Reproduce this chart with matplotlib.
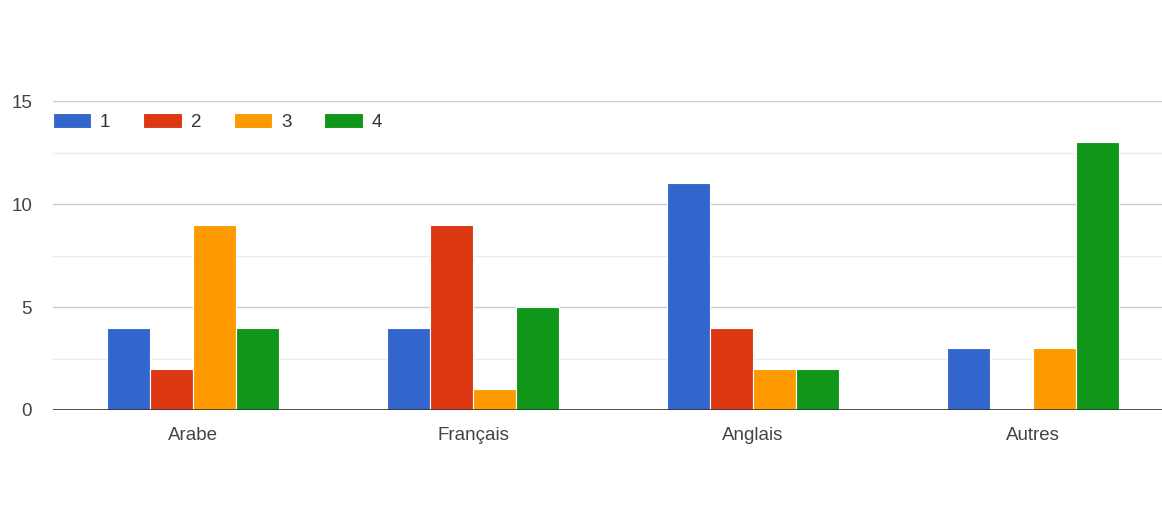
import matplotlib.pyplot as plt
import numpy as np
from matplotlib.ticker import MultipleLocator

plt.rcParams['font.family'] = ['Liberation Sans', 'DejaVu Sans']

categories = ["Arabe", "Français", "Anglais", "Autres"]
series_names = ["1", "2", "3", "4"]
values_1 = [4, 4, 11, 3]
values_2 = [2, 9, 4, 0]
values_3 = [9, 1, 2, 3]
values_4 = [4, 5, 2, 13]
colors = ["#3366cc", "#dc3912", "#ff9900", "#109618"]

fig = plt.figure(figsize=(11.62, 5.23), dpi=100)
ax = fig.add_axes([53 / 1162, 1 - 410 / 523, 1 - 53 / 1162, 309 / 523])

x = np.arange(len(categories))
width = 0.154
all_values = [values_1, values_2, values_3, values_4]
for i, (vals, name, c) in enumerate(zip(all_values, series_names, colors)):
    ax.bar(x + (i - 1.5) * width, vals, width, color=c, label=name,
           edgecolor="white", linewidth=0.8, zorder=3)

ax.set_xlim(-0.5, 3.46)
ax.set_ylim(0, 15)
ax.yaxis.set_major_locator(MultipleLocator(5))
ax.yaxis.set_minor_locator(MultipleLocator(2.5))
ax.grid(axis="y", which="major", color="#cccccc", linewidth=1, zorder=0)
ax.grid(axis="y", which="minor", color="#ebebeb", linewidth=1, zorder=0)
ax.axhline(0, color="#333333", linewidth=1.2, zorder=4)

for s in ax.spines.values():
    s.set_visible(False)
ax.set_xticks(x)
ax.set_xticklabels(categories)
ax.tick_params(axis="both", which="both", length=0, labelsize=13.5, labelcolor="#444444")
ax.tick_params(axis="y", pad=15)
ax.tick_params(axis="x", pad=12)

ax.legend(loc="center left", bbox_to_anchor=(0, 1 - 21 / 309), ncol=4, frameon=False,
          fontsize=13.5, handlelength=2.03, handleheight=0.88, handletextpad=0.48,
          columnspacing=1.76, borderaxespad=0, borderpad=0, labelcolor="#333333")

fig.savefig("out.png", dpi=100)
